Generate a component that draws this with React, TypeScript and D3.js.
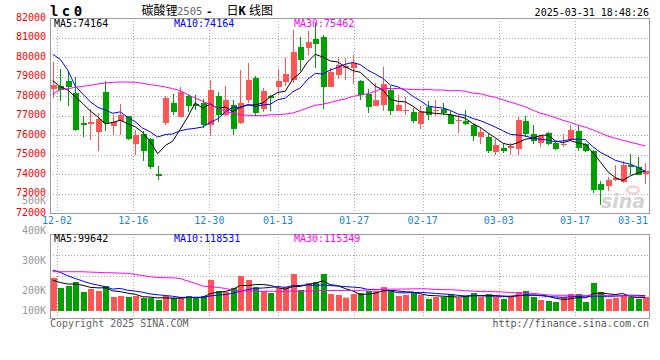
import React from "react";
import * as d3 from "d3";

const dates = [
  "11-29","12-02","12-03","12-04","12-05","12-06","12-09","12-10","12-11","12-12","12-13","12-16","12-17","12-18","12-19","12-20","12-23","12-24","12-25","12-26","12-27","12-30","12-31",
  "01-02","01-03","01-06","01-07","01-08","01-09","01-10","01-13","01-14","01-15","01-16","01-17","01-20","01-21","01-22","01-23","01-24","01-27",
  "02-05","02-06","02-07","02-10","02-11","02-12","02-13","02-14","02-17","02-18","02-19","02-20","02-21","02-24","02-25","02-26","02-27","02-28",
  "03-03","03-04","03-05","03-06","03-07","03-10","03-11","03-12","03-13","03-14","03-17","03-18","03-19","03-20","03-21","03-24","03-25","03-26","03-27","03-28","03-31",
];

const opens = [
  78381,78518,78791,78176,76623,76589,76179,78210,76452,76742,
  76964,75547,76077,75803,74028,76623,77647,76947,77989,77596,
  77647,76503,77989,77050,77528,76623,77818,78927,77357,77989,
  78449,78723,78842,80498,80464,80942,81027,78467,79098,79440,
  79440,78791,78108,77477,77562,78330,77255,77255,77186,76572,
  77425,77255,77357,77050,76708,76742,76538,75906,75906,75138,
  75343,75343,75309,76708,76060,75599,76111,75599,75513,75769,
  76196,75547,75206,73499,73380,73721,73601,74455,74353,74011,
];
const highs = [
  79730,79405,79235,78962,76964,77357,77135,78757,77016,77596,
  77000,76282,76196,75855,74404,77989,78108,78449,78108,78040,
  77869,78842,78210,78535,77818,79354,79696,79013,78415,78040,
  79354,79952,81403,81010,81317,81744,81147,79440,79986,79952,
  80088,78842,78381,78671,79474,78501,78040,77937,77391,77477,
  77733,77818,77647,77220,77050,77272,76572,76401,76060,75821,
  75547,75599,76964,76964,76503,76025,76162,75650,76060,76503,
  76538,75599,75257,73636,73840,74489,74694,75035,74865,74575,
];
const lows = [
  77903,77767,77477,76230,75889,75769,75206,76230,76025,75991,
  75752,74967,74694,74284,73721,76538,77016,76947,77169,77306,
  76367,75940,76657,77000,75991,76572,77647,76964,77186,77220,
  78074,78501,78671,79269,80122,79440,77357,78467,78893,78842,
  78620,77818,77135,77477,77255,77050,77255,77050,76623,76333,
  76794,76964,77016,76572,76111,76503,75718,75547,75086,74967,
  75086,74967,75001,75889,75547,75377,75513,75257,75377,75718,
  75206,75138,73038,72407,73158,73636,73550,73977,73977,73499,
];
const closes = [
  78586,78313,78449,76282,76503,76657,76828,76606,76674,77050,
  75803,76025,75172,74353,73892,77903,77169,78210,77477,77511,
  76503,78330,77050,77818,76333,77647,78842,77135,78279,77903,
  78791,79132,80259,79866,80771,80669,78467,79235,79610,79525,
  79696,78040,77460,77818,78620,77255,77528,77306,76742,77186,
  77050,77306,77135,76572,76760,76572,75940,76162,75172,75479,
  75206,75428,76794,76060,75718,75940,75547,75309,75565,76247,
  75343,75172,73209,73209,73721,73806,74489,74353,73977,74182,
];
const volumes = [
  249000,175000,190000,224000,144000,170000,154000,190000,108000,116000,
  108000,113000,95000,95000,82000,113000,95000,103000,113000,95000,
  113000,236000,152000,146000,172000,267000,236000,185000,152000,139000,
  177000,180000,283000,159000,213000,221000,283000,129000,121000,100000,
  131000,139000,152000,154000,185000,154000,116000,121000,146000,118000,
  90000,103000,103000,131000,100000,113000,136000,103000,131000,103000,
  90000,111000,146000,152000,108000,82000,75000,67000,103000,131000,
  129000,69000,216000,144000,93000,100000,111000,103000,93000,103000,
];

// moving-average values for days whose window starts before the visible range
const ma5Head = [78790, 78483, 78314, 77970];
const ma10Head = [80141, 79885, 79338, 78518, 78109, 77715, 77428, 77290, 77121];
const ma30Head = [
  78108,78330,78381,78449,78501,78552,78620,78671,78706,78723,
  78723,78706,78655,78586,78535,78467,78381,78279,78074,77903,
  77733,77562,77391,77220,77135,77050,77016,76998,76998,
];
const vma5Head = [236000, 218000, 206000, 206000];
const vma10Head = [314000, 296000, 270000, 249000, 229000, 211000, 198000, 185000, 167000];
const vma30Head = [
  301000,301000,301000,301000,301000,298000,296000,293000,293000,290000,
  288000,280000,272000,262000,257000,254000,254000,249000,229000,211000,
  190000,185000,180000,172000,159000,154000,152000,152000,149000,
];

const priceTicks = [82000, 81000, 80000, 79000, 78000, 77000, 76000, 75000, 74000, 73000, 72000];
const volTickValues = [500000, 400000, 300000, 200000, 100000];
const volTickLabels = ["500K", "400K", "300K", "200K", "100K"];
const dateTicks = ["12-02", "12-16", "12-30", "01-13", "01-27", "02-17", "03-03", "03-17", "03-31"];
const priceMALabels = ["MA5:74164", "MA10:74164", "MA30:75462"];
const volMALabels = ["MA5:99642", "MA10:118531", "MA30:115349"];

const RED = "#ff5555";
const GREEN = "#00a000";
const MA_COLORS = ["#000000", "#0000ff", "#ff00ff"];
const MONO = "'DejaVu Sans Mono', 'Liberation Mono', monospace";

function movingAvg(vals: number[], n: number, head: number[]) {
  return vals.map((_, i) => (i < head.length ? head[i] : (d3.mean(vals.slice(i - n + 1, i + 1)) as number)));
}

export default function App() {
  const W = 660, H = 360;
  const left = 50, right = 649;
  const pTop = 18, pBottom = 213.3;
  const vTop = 234.3, vBottom = 318.3, vBase = 310.7;

  const x = d3.scalePoint<string>().domain(dates).range([52.7, 645.3]);
  const gx = d3.scaleLinear().domain([0, dates.length - 1]).range([49.4, 651.2]);
  const yP = d3.scaleLinear().domain([72000, 82000]).range([pBottom, pTop]);
  const yV = d3.scaleLinear().domain([0, 590000]).range([vBase, vTop]);
  const yVLabel = d3.scaleLinear().domain([500000, 200000]).range([200, 290]);

  const pMA = [movingAvg(closes, 5, ma5Head), movingAvg(closes, 10, ma10Head), movingAvg(closes, 30, ma30Head)];
  const vMA = [movingAvg(volumes, 5, vma5Head), movingAvg(volumes, 10, vma10Head), movingAvg(volumes, 30, vma30Head)];

  const lineP = d3.line<number>().x((_, i) => x(dates[i]) as number).y((v) => yP(v));
  const lineV = d3.line<number>().x((_, i) => x(dates[i]) as number).y((v) => yV(v));

  const cx = (i: number) => Math.round(x(dates[i]) as number);

  const vGrid = [vTop + (vBottom - vTop) / 4, vTop + (vBottom - vTop) / 2, vTop + (3 * (vBottom - vTop)) / 4];

  return (
    <svg width={W} height={H} style={{ position: "absolute", left: 0, top: 0, background: "#fff" }}>
      <rect x={0} y={0} width={W} height={H} fill="#fff" />
      {/* header */}
      <text x={50} y={16} fontFamily={MONO} fontWeight="bold" fontSize={14} letterSpacing={3.4} fill="#000">lc0</text>
      <text y={14.5} fontSize={12} fontFamily="'Noto Sans CJK SC', sans-serif" fill="#000">
        <tspan x={141.5}>碳酸锂</tspan>
        <tspan x={177} fontFamily={MONO} fontSize={10.5} fill="#666">2505</tspan>
        <tspan x={206} fontFamily={MONO} fontWeight="bold" fontSize={11}>-</tspan>
        <tspan x={226.5}>日</tspan>
        <tspan x={238.5} fontFamily={MONO} fontWeight="bold" fontSize={12}>K</tspan>
        <tspan x={249}>线图</tspan>
      </text>
      <text x={649} y={16} textAnchor="end" fontFamily={MONO} fontSize={10} fill="#000">2025-03-31 18:48:26</text>

      {/* price grid */}
      <g stroke="#aaa" strokeDasharray="1 2" shapeRendering="crispEdges">
        {priceTicks.slice(1, -1).map((t) => (
          <line key={t} x1={left} x2={right} y1={Math.round(yP(t)) + 0.5} y2={Math.round(yP(t)) + 0.5} />
        ))}
        {dateTicks.map((d) => {
          const gxv = gx(dates.indexOf(d));
          if (gxv > right) return null;
          const xx = Math.round(gxv) + 0.5;
          return (
            <g key={d}>
              <line x1={xx} x2={xx} y1={pTop} y2={pBottom} />
              <line x1={xx} x2={xx} y1={vTop} y2={vBottom + 3} />
            </g>
          );
        })}
        {vGrid.map((g, i) => (
          <line key={i} x1={left} x2={right} y1={Math.round(g) + 0.5} y2={Math.round(g) + 0.5} />
        ))}
      </g>

      {/* sina watermark */}
      <g opacity={0.9}>
        <ellipse cx={633} cy={190} rx={6} ry={3.5} fill="none" stroke="#f3c6c6" strokeWidth={2} />
        <text x={601} y={208} fontFamily="'DejaVu Sans', sans-serif" fontStyle="italic" fontWeight="bold" fontSize={19} fill="#cfcfcf">sina</text>
      </g>

      {/* candles */}
      <g shapeRendering="crispEdges">
        {dates.map((d, i) => {
          const o = opens[i], c = closes[i];
          const col = c >= o ? RED : GREEN;
          const xc = cx(i);
          const yTop = yP(Math.max(o, c));
          const yBot = yP(Math.min(o, c));
          return (
            <g key={d} fill={col}>
              <rect x={xc} y={yP(highs[i])} width={1} height={Math.max(1, yP(lows[i]) - yP(highs[i]))} />
              <rect x={xc - 2.5} y={yTop} width={6} height={Math.max(1, yBot - yTop)} />
            </g>
          );
        })}
      </g>

      {/* price MAs */}
      {pMA.map((m, k) => (
        <path key={k} d={lineP(m) as string} fill="none" stroke={MA_COLORS[k]} strokeWidth={1} />
      ))}

      {/* volume bars */}
      <g shapeRendering="crispEdges">
        {dates.map((d, i) => (
          <rect
            key={d}
            x={cx(i) - 2.5}
            y={yV(volumes[i])}
            width={6}
            height={vBase - yV(volumes[i])}
            fill={closes[i] >= opens[i] ? RED : GREEN}
          />
        ))}
      </g>
      {vMA.map((m, k) => (
        <path key={k} d={lineV(m) as string} fill="none" stroke={MA_COLORS[k]} strokeWidth={1} />
      ))}

      {/* frames */}
      <g fill="none" stroke="#999" shapeRendering="crispEdges">
        <rect x={left} y={pTop} width={right - left} height={pBottom - pTop} />
        <rect x={left} y={vTop} width={right - left} height={vBottom - vTop} />
      </g>

      {/* MA labels */}
      {priceMALabels.map((t, k) => (
        <text key={t} x={54 + k * 120} y={27.3} fontFamily={MONO} fontSize={10} fill={MA_COLORS[k]}>{t}</text>
      ))}
      {volMALabels.map((t, k) => (
        <text key={t} x={54 + k * 120} y={241.7} fontFamily={MONO} fontSize={10} fill={MA_COLORS[k]}>{t}</text>
      ))}

      {/* volume axis labels */}
      {volTickValues.map((v, i) => (
        <text key={v} x={46} y={Math.min(yVLabel(v), 310) + 3.6} textAnchor="end" fontFamily={MONO} fontSize={10} fill="#999">
          {volTickLabels[i]}
        </text>
      ))}
      {/* price axis labels */}
      {priceTicks.map((t) => (
        <text key={t} x={46} y={yP(t) + 2.6} textAnchor="end" fontFamily={MONO} fontSize={10} fill="#ff0000">{t}</text>
      ))}

      {/* date labels */}
      {dateTicks.map((d) => {
        const gxv = gx(dates.indexOf(d));
        const atEnd = gxv > right - 15;
        return (
          <text key={d} x={atEnd ? right - 1 : gxv} y={224.3} textAnchor={atEnd ? "end" : "middle"} fontFamily={MONO} fontSize={10} fill="#1a86d0">
            {d}
          </text>
        );
      })}

      {/* footer */}
      <text x={50} y={327} fontFamily={MONO} fontSize={10} fill="#666">Copyright 2025 SINA.COM</text>
      <text x={649} y={327} textAnchor="end" fontFamily={MONO} fontSize={10} fill="#555">http://finance.sina.com.cn</text>
    </svg>
  );
}
